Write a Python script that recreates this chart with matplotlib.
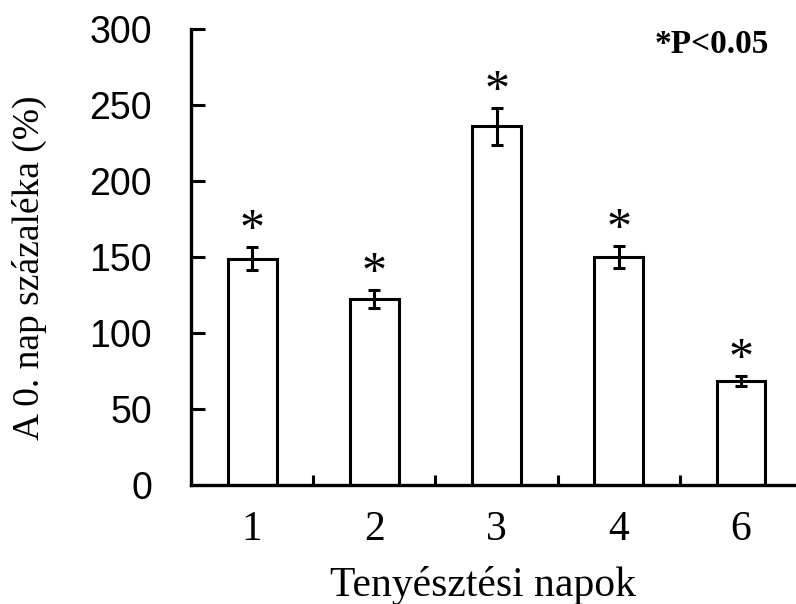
import matplotlib.pyplot as plt
import numpy as np

# data
days = ["1", "2", "3", "4", "6"]
percent = [149, 122.5, 236, 150, 68.5]
sem = [7.5, 6, 12, 7.5, 3.5]

serif = "Liberation Serif"
sans = "Liberation Sans"

fig = plt.figure(figsize=(7.96, 6.04), dpi=100)
ax = fig.add_axes([0.240, 0.197, 0.760, 0.755])

x = np.arange(len(days))
ax.bar(x, percent, width=0.4, color="white", edgecolor="black", linewidth=2.2, zorder=2)
ax.errorbar(x, percent, yerr=sem, fmt="none", ecolor="black", elinewidth=2.2,
            capsize=4, capthick=2.2, zorder=3)

# significance marks
for xi, v, e in zip(x, percent, sem):
    ax.annotate("*", xy=(xi, v + e), xytext=(0, -5), textcoords="offset points",
                ha="center", va="bottom", fontsize=36, family=serif)

ax.text(0.955, 1.0, "*P<0.05", transform=ax.transAxes, ha="right", va="top",
        fontsize=24, fontweight="bold", family=serif)

ax.set_xlim(-0.5, 4.45)
ax.set_ylim(0, 300)
ax.set_yticks(np.arange(0, 301, 50))
ax.set_xticks(x)
ax.set_xticklabels(days, family=serif, fontsize=30)
ax.set_xticks(x[:-1] + 0.5, minor=True)
for lbl in ax.get_yticklabels():
    lbl.set_family(sans)
    lbl.set_fontsize(27)

ax.tick_params(axis="y", direction="in", length=10, width=2.2, pad=28)
ax.tick_params(axis="x", which="major", length=0, pad=18)
ax.tick_params(axis="x", which="minor", direction="in", length=7, width=2.2)

for side in ["top", "right"]:
    ax.spines[side].set_visible(False)
for side in ["left", "bottom"]:
    ax.spines[side].set_linewidth(2.4)

ax.set_xlabel("Tenyésztési napok", family=serif, fontsize=30)
ax.xaxis.set_label_coords(0.483, -0.177)
ax.set_ylabel("A 0. nap százaléka (%)", family=serif, fontsize=27)
ax.yaxis.set_label_coords(-0.238, 0.476)

fig.savefig("out.png", dpi=100)
